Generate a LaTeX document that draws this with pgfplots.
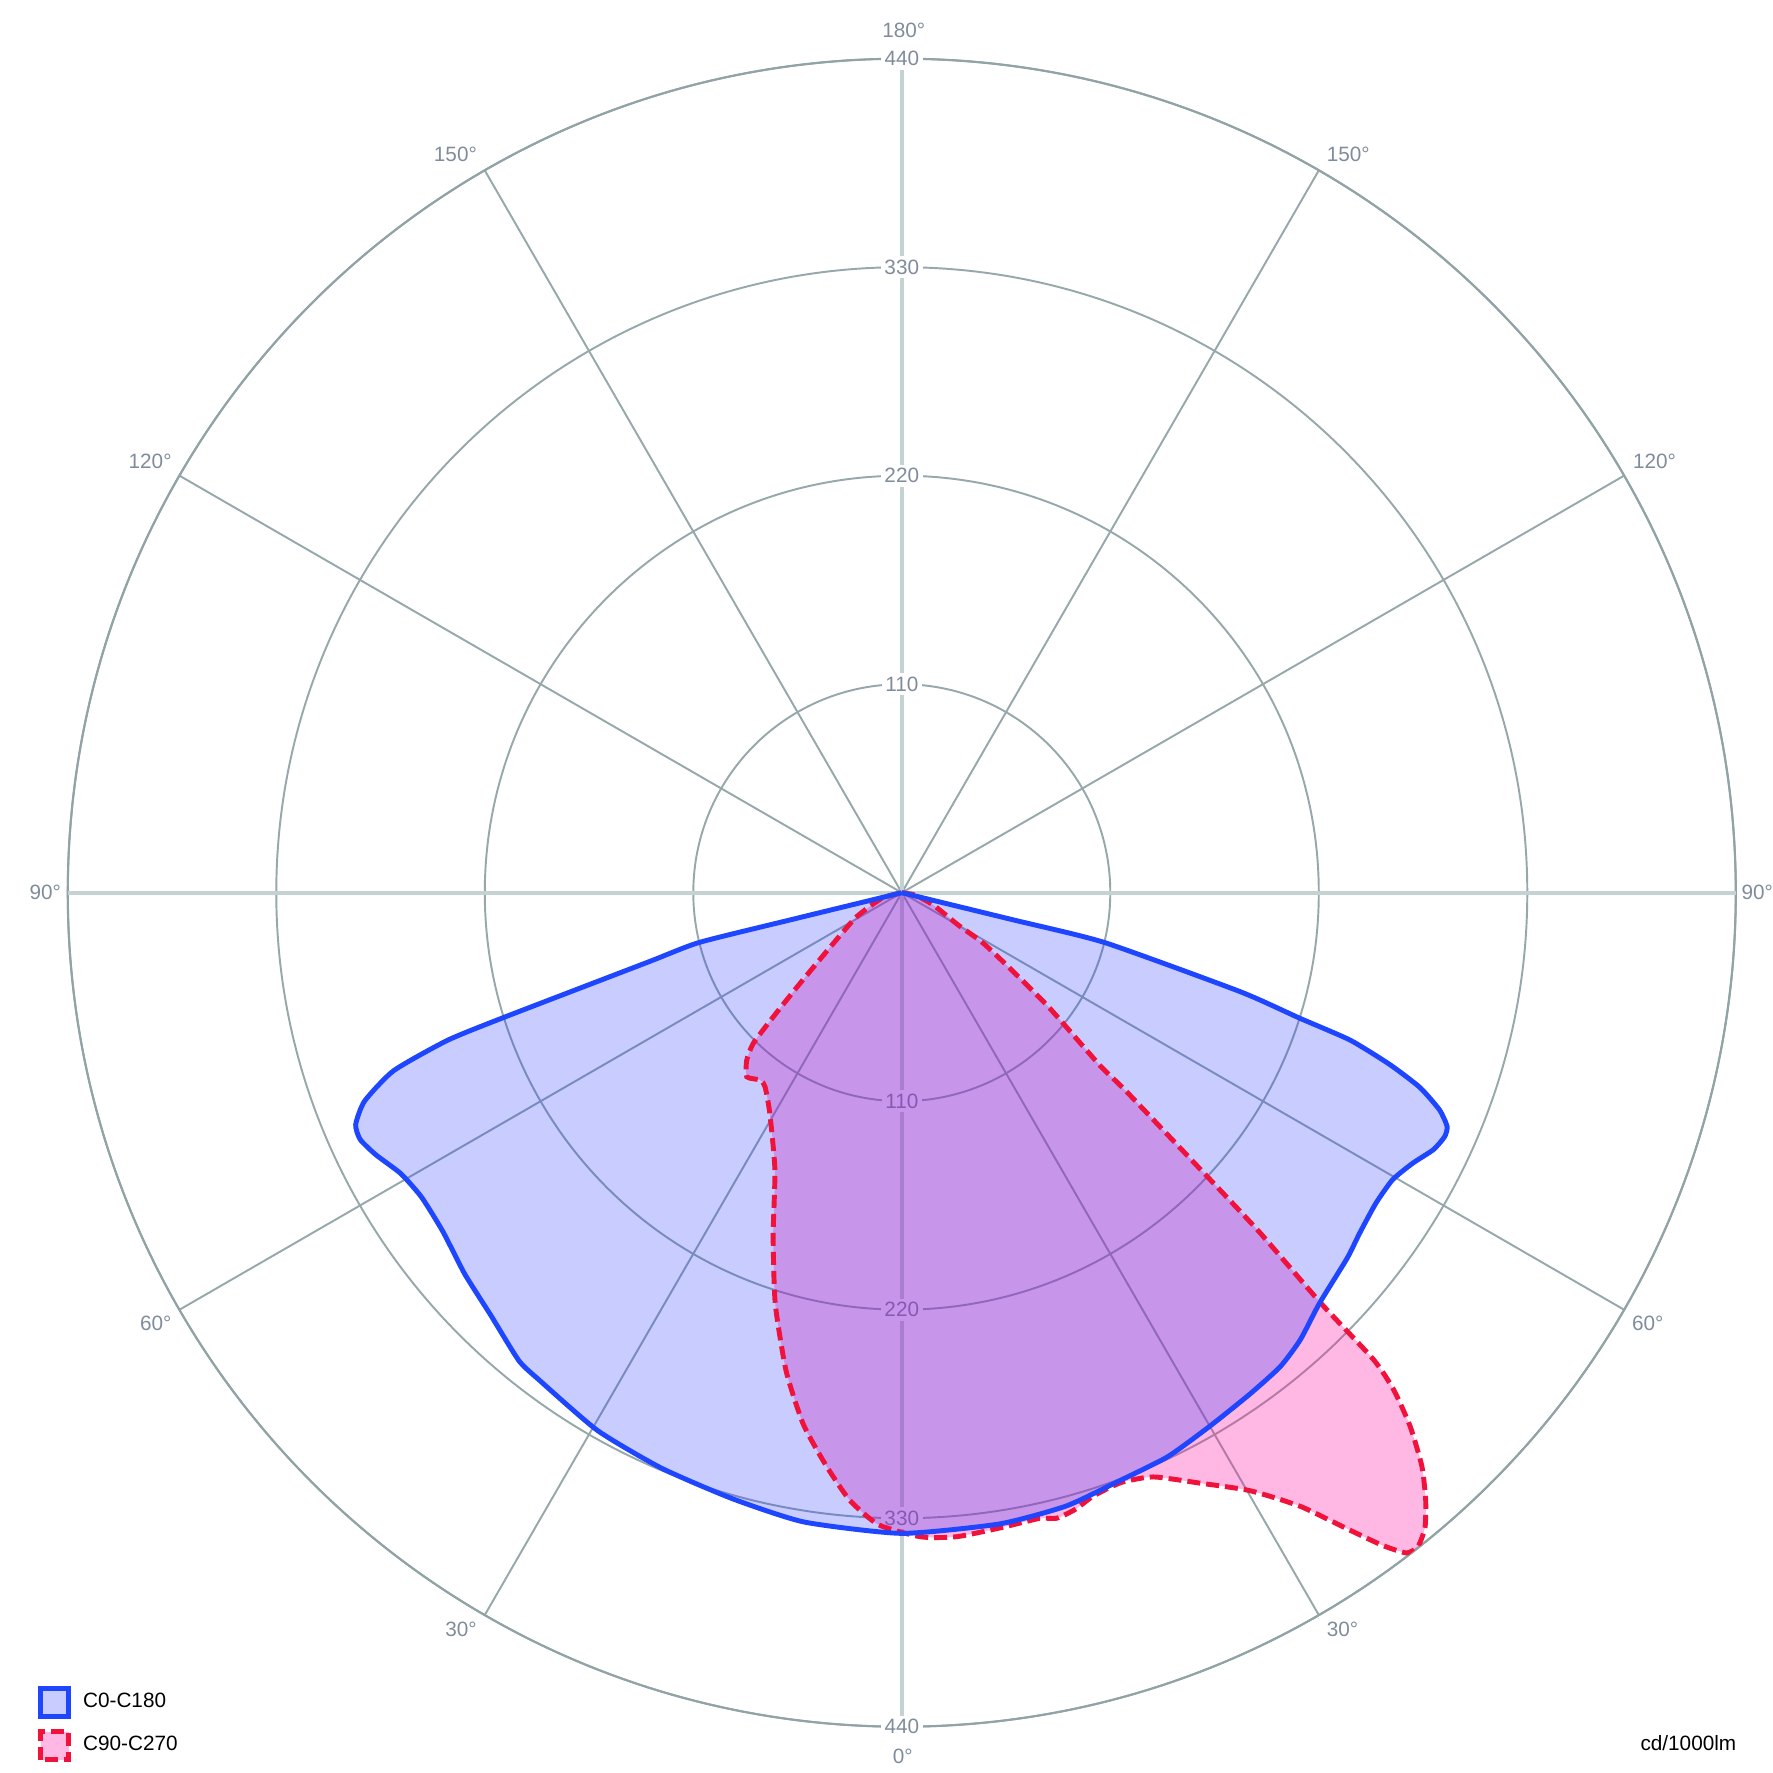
\documentclass[border=0pt]{standalone}
\usepackage{fontspec}
\setmainfont{Liberation Sans}
\usepackage{pgfplots}
\usepackage{pgfplotstable}
\pgfplotsset{compat=1.18}
\usepgfplotslibrary{polar}

\definecolor{gridc}{RGB}{150,168,170}
\definecolor{mainax}{RGB}{197,210,210}
\definecolor{rimc}{RGB}{145,163,165}
\definecolor{labc}{RGB}{128,140,155}
\definecolor{c0line}{RGB}{30,70,255}
\definecolor{c0fill}{RGB}{35,51,255}
\definecolor{c90line}{RGB}{240,18,58}
\definecolor{c90fill}{RGB}{255,15,165}
\newcommand\lbl{\fontsize{5.9}{7}\selectfont}

% polar angle = 270 + gamma (gamma > 0 on the right half), value in cd/1000lm
\pgfplotstableread{
a v
360 0
346.3 60
346.2 110
343.7 186
342.5 220
341.8 249
340.6 273
339.4 292
338.0 306
336.8 313
335.8 314
334.2 311.5
332.1 305
329.7 300
326.8 299
323.4 301
320.6 304
315.5 309
311.7 316
308.6 320
304.8 322
300.0 325
295.2 329
290.0 331
285.0 335
278.8 337
270 338
261.2 336
254.4 332
247.3 329
240.5 326
233.4 320.5
230.7 319
225.8 311
221.1 306
216.5 301
212.4 300
209.3 303
206.5 310
204.5 314
203.0 313
201.2 304
199.3 284
198.0 252
197.4 220
195.3 139
193.8 110
193.7 60
180 0
}\czero

\pgfplotstableread{
a v
360 0
350 7
338.7 17.8
330.2 34.3
328.2 50.6
324.7 72.1
322.0 99.2
318.9 139
318.5 158
317.1 220
316.5 260
315.6 309
315.3 350
314.7 369
313.6 389
312.2 408.5
310.8 423
309.5 434
308.3 439.5
307.4 438.5
306.4 428
305.1 411
303.0 386
300.2 365
296.8 349
293.3 335.6
290.4 332
287.6 334
285.7 338
283.9 340
282.4 338
279.1 339
274.9 341
271.7 340
267.9 333.7
265.1 321.7
262.4 304.4
259.5 285.2
256.4 259.6
252.9 227
249.5 193.8
245.4 160.8
239.1 135.6
234.8 125.2
232.9 123.9
229.9 127
227.2 120.4
225.4 111.6
224.0 94.2
221.7 71.9
216.5 44.9
208 27
195.6 11
180 0
}\cninety

\begin{document}
\begin{tikzpicture}
\begin{polaraxis}[
    at={(0,0)}, anchor=center,
    width=16.68cm, height=16.68cm, scale only axis,
    ymin=0, ymax=440,
    xtick={30,60,120,150,210,240,300,330},
    xticklabels={},
    extra x ticks={0,90,180,270},
    extra x tick labels={},
    extra x tick style={major grid style={line width=1.1pt,color=mainax}},
    ytick={110,220,330,440},
    yticklabels={},
    xmajorgrids, ymajorgrids,
    major grid style={line width=0.55pt,color=gridc},
    axis line style={line width=0.6pt,color=rimc},
    major tick length=0pt,
    tick style={draw=none},
    legend image code/.code={\draw[#1] (0cm,-0.14cm) rectangle (0.28cm,0.14cm);},
    legend style={at={(axis description cs:-0.0176,0.0242)}, anchor=north west,
        draw=none, fill=none, inner sep=0pt, outer sep=0pt,
        row sep=0.1cm, column sep=0.1cm, font=\lbl,
        nodes={inner sep=0.5pt}},
    legend cell align=left,
]
% radial value labels, under the fills
\foreach \r in {110,220,330} {
  \edef\temp{\noexpand\node[fill=white, inner sep=1pt, font=\noexpand\lbl, text=labc] at (axis cs:90,\r) {\r};
    \noexpand\node[fill=white, inner sep=1pt, font=\noexpand\lbl, text=labc] at (axis cs:270,\r) {\r};}
  \temp
}
% ends of the spokes, for the angle labels
\foreach \t in {0,30,...,330} {
  \edef\temp{\noexpand\coordinate (s\t) at (axis cs:\t,440);}
  \temp
}

% fills
\addplot[draw=none, fill=c90fill, fill opacity=0.3, smooth, tension=0.35, forget plot]
    table[x=a, y=v] {\cninety};
\addplot[draw=none, fill=c0fill, fill opacity=0.25, smooth, tension=0.35, forget plot]
    table[x=a, y=v] {\czero};
% outlines
\addplot[color=c90line, line width=1.4pt, dash pattern=on 3.7pt off 1.7pt,
    smooth, tension=0.35, forget plot] table[x=a, y=v] {\cninety};
\addplot[color=c0line, line width=1.4pt, smooth, tension=0.35, forget plot]
    table[x=a, y=v] {\czero};

\addlegendimage{color=c0line, line width=1.4pt, fill=c0fill, fill opacity=0.25}
\addlegendentry{C0-C180}
\addlegendimage{color=c90line, line width=1.4pt, dash pattern=on 3.7pt off 1.7pt,
    fill=c90fill, fill opacity=0.3}
\addlegendentry{C90-C270}
\end{polaraxis}

\begin{scope}[every node/.style={font=\lbl, text=labc, inner sep=1pt}]
\node[fill=white] at (s90) {440};
\node[fill=white] at (s270) {440};
\node at ([shift={(0.02,0.283)}]s90) {180°};
\node at ([shift={(-0.294,0.158)}]s120) {150°};
\node at ([shift={(-0.294,0.147)}]s150) {120°};
\node at ([shift={(-0.226,0)}]s180) {90°};
\node at ([shift={(-0.237,-0.136)}]s210) {60°};
\node at ([shift={(-0.237,-0.147)}]s240) {30°};
\node at ([shift={(0.01,-0.294)}]s270) {0°};
\node at ([shift={(0.237,-0.147)}]s300) {30°};
\node at ([shift={(0.237,-0.136)}]s330) {60°};
\node at ([shift={(0.215,0)}]s0) {90°};
\node at ([shift={(0.305,0.147)}]s30) {120°};
\node at ([shift={(0.294,0.158)}]s60) {150°};
\end{scope}
\node[anchor=east, inner sep=0pt, font=\lbl] at (8.351,-8.499) {cd/1000lm};

\pgfresetboundingbox
\useasboundingbox (-9.018,-8.803) rectangle (8.702,8.927);
\end{tikzpicture}
\end{document}
